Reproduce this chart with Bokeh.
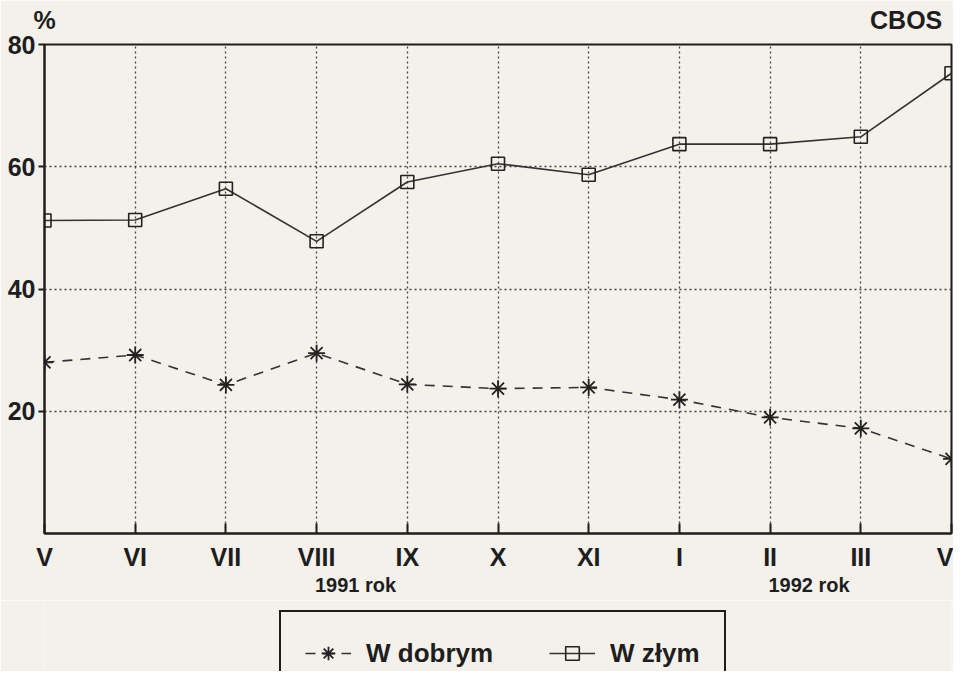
from bokeh.plotting import figure
from bokeh.layouts import column
from bokeh.models import Range1d, FixedTicker, Legend, LegendItem, LinearAxis
from bokeh.embed import file_html
from bokeh.resources import INLINE

# ---- data ----
months = ["V", "VI", "VII", "VIII", "IX", "X", "XI", "I", "II", "III", "V"]
x_idx = list(range(len(months)))
w_dobrym = [28.0, 29.2, 24.3, 29.5, 24.4, 23.7, 23.9, 21.9, 19.0, 17.2, 12.2]
w_zlym = [51.2, 51.3, 56.4, 47.8, 57.5, 60.5, 58.7, 63.7, 63.7, 64.9, 75.3]
y_ticks = [20, 40, 60, 80]
year_labels = [(3, "1991 rok"), (8, "1992 rok")]   # (month index, text)
series_names = ["W dobrym", "W złym"]
unit_label = "%"
source_label = "CBOS"

BG = "#f3f1ea"
INK = "#1e1e1e"
FONT = "Liberation Sans"

p = figure(width=953, height=600, output_backend="svg", toolbar_location=None,
           x_range=Range1d(0, 10), y_range=Range1d(0, 80),
           min_border_left=44, min_border_right=2, min_border_top=44, min_border_bottom=67)
p.background_fill_color = BG
p.border_fill_color = BG
p.outline_line_color = INK
p.outline_line_width = 2

# main axes
p.xaxis.ticker = FixedTicker(ticks=x_idx)
p.xaxis.major_label_overrides = {i: m for i, m in zip(x_idx, months)}
p.xaxis.major_tick_in = 10
p.xaxis.major_tick_out = 0
p.xaxis.minor_tick_line_color = None
p.xaxis.axis_line_width = 2
p.xaxis.axis_line_color = INK
p.xaxis.major_tick_line_width = 2
p.xaxis.major_tick_line_color = INK
p.xaxis.major_label_text_font = FONT
p.xaxis.major_label_text_font_style = "bold"
p.xaxis.major_label_text_font_size = "25px"
p.xaxis.major_label_text_color = INK
p.xaxis.major_label_standoff = 9

p.yaxis.ticker = FixedTicker(ticks=y_ticks)
p.yaxis.major_tick_in = 0
p.yaxis.major_tick_out = 6
p.yaxis.minor_tick_line_color = None
p.yaxis.axis_line_width = 2
p.yaxis.axis_line_color = INK
p.yaxis.major_tick_line_width = 2
p.yaxis.major_tick_line_color = INK
p.yaxis.major_label_text_font = FONT
p.yaxis.major_label_text_font_style = "bold"
p.yaxis.major_label_text_font_size = "25px"
p.yaxis.major_label_text_color = INK
p.yaxis.major_label_standoff = 3

LABEL_ONLY = dict(axis_line_color=None, major_tick_line_color=None, minor_tick_line_color=None,
                  major_tick_in=0, major_tick_out=0, minor_tick_in=0, minor_tick_out=0,
                  major_label_text_font=FONT, major_label_text_font_style="bold",
                  major_label_text_color=INK)

# year labels as a secondary bottom axis (label centred about half a month right of its month)
year_pos = [i + 0.43 for i, _ in year_labels]
year_axis = LinearAxis(ticker=FixedTicker(ticks=year_pos),
                       major_label_overrides={pos: t for pos, (_, t) in zip(year_pos, year_labels)},
                       major_label_standoff=0, major_label_text_font_size="20px", **LABEL_ONLY)
p.add_layout(year_axis, "below")

# "%" and "CBOS" along the top as a label-only axis
top_pos = [0.0, 9.5]
top_axis = LinearAxis(ticker=FixedTicker(ticks=top_pos),
                      major_label_overrides={top_pos[0]: unit_label, top_pos[1]: source_label},
                      major_label_standoff=11, major_label_text_font_size="25px", **LABEL_ONLY)
p.add_layout(top_axis, "above")

# grid
p.xgrid.ticker = FixedTicker(ticks=x_idx)
p.ygrid.ticker = FixedTicker(ticks=[20, 40, 60])
for g in (p.xgrid, p.ygrid):
    g.grid_line_color = "#444444"
    g.grid_line_dash = "2 3"
    g.grid_line_width = 1.3

DOBRYM_LINE = dict(line_color="#333333", line_width=1.6, line_dash="10 8")
DOBRYM_MARK = dict(marker="asterisk", size=17, line_color="#222222", line_width=1.8)
ZLYM_LINE = dict(line_color="#333333", line_width=1.6)
ZLYM_MARK = dict(marker="square", size=13, fill_color=None, line_color="#222222", line_width=1.6)

# series
p.line(x_idx, w_dobrym, **DOBRYM_LINE)
p.scatter(x_idx, w_dobrym, **DOBRYM_MARK)
p.line(x_idx, w_zlym, **ZLYM_LINE)
p.scatter(x_idx, w_zlym, **ZLYM_MARK)

# ---- legend strip (a second figure whose own renderers lie outside its view) ----
q = figure(width=953, height=71, output_backend="svg", toolbar_location=None,
           x_range=Range1d(100, 110), y_range=Range1d(0, 80),
           x_axis_location=None, y_axis_location=None,
           min_border=0)
q.background_fill_color = BG
q.border_fill_color = BG
q.outline_line_color = None
q.grid.visible = False
ql1 = q.line(x_idx, w_dobrym, **DOBRYM_LINE)
qs1 = q.scatter(x_idx, w_dobrym, **DOBRYM_MARK)
ql2 = q.line(x_idx, w_zlym, **ZLYM_LINE)
qs2 = q.scatter(x_idx, w_zlym, **ZLYM_MARK)

legend = Legend(items=[LegendItem(label=series_names[0], renderers=[ql1, qs1]),
                       LegendItem(label=series_names[1], renderers=[ql2, qs2])],
                orientation="horizontal", location=(235, -25))
legend.background_fill_color = BG
legend.background_fill_alpha = 1
legend.border_line_color = INK
legend.border_line_alpha = 1
legend.border_line_width = 2
legend.label_text_font = FONT
legend.label_text_font_style = "bold"
legend.label_text_font_size = "26px"
legend.label_text_color = INK
legend.glyph_width = 46
legend.glyph_height = 34
legend.label_height = 34
legend.padding = 24
legend.spacing = 56
legend.label_standoff = 15
legend.margin = 0
q.add_layout(legend, "center")

layout = column(p, q, spacing=0)
open("out.html", "w").write(file_html(layout, INLINE))
